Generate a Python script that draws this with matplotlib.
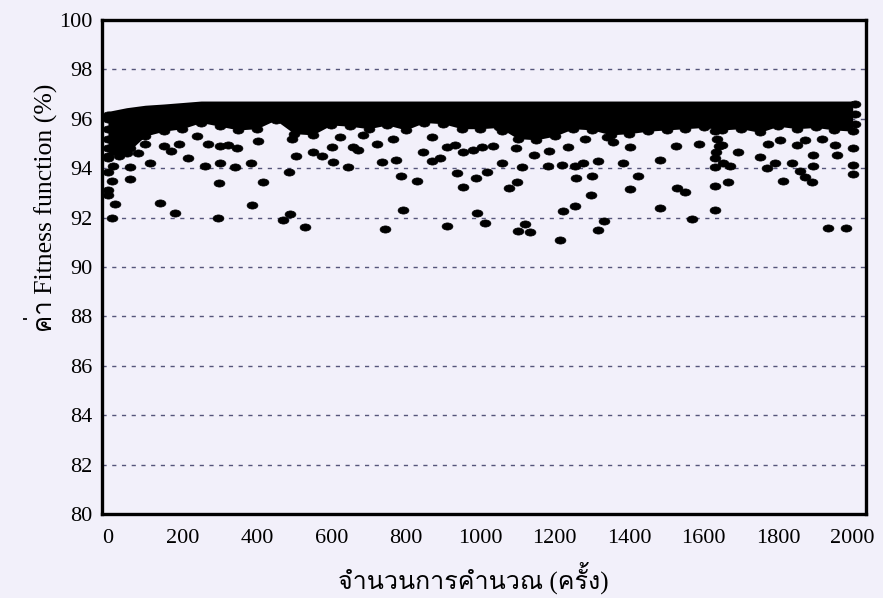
import matplotlib
matplotlib.use("Agg")
import matplotlib.pyplot as plt
from matplotlib import font_manager
from matplotlib.path import Path
from matplotlib.transforms import Affine2D

# หา font ที่มีอักษรไทย (ถ้ามี)
thai_font = None
for f in font_manager.fontManager.ttflist:
    if "thai" in f.name.lower() or f.name in ("Loma", "Garuda", "Norasi", "Sawasdee", "Kinnari"):
        thai_font = f.name
        break
fam = ["Liberation Serif"] + ([thai_font] if thai_font else []) + ["DejaVu Sans"]

# แถบหนาแน่นด้านบน (ขอบบน / ขอบล่าง ของจุดที่ซ้อนกัน)
band_x = [0, 50, 100, 150, 200, 250, 300, 350, 400, 450, 500, 550, 600, 650, 700,
          750, 800, 850, 900, 950, 1000, 1050, 1100, 1150, 1200, 1250, 1300, 1350,
          1400, 1450, 1500, 1550, 1600, 1650, 1700, 1750, 1800, 1850, 1900, 1950, 2000]
band_top = [96.3, 96.45, 96.55, 96.6, 96.66, 96.72, 96.72, 96.72, 96.72, 96.72,
            96.72, 96.72, 96.72, 96.72, 96.72, 96.72, 96.72, 96.72, 96.72, 96.72,
            96.72, 96.72, 96.72, 96.72, 96.72, 96.72, 96.72, 96.72, 96.72, 96.72,
            96.72, 96.72, 96.72, 96.72, 96.72, 96.72, 96.72, 96.72, 96.72, 96.72, 96.72]
band_low = [94.5, 94.6, 95.3, 95.5, 95.6, 95.85, 95.7, 95.55, 95.6, 95.95, 95.4,
            95.35, 95.75, 95.7, 95.6, 95.75, 95.55, 95.85, 95.8, 95.6, 95.6, 95.65,
            95.2, 95.15, 95.3, 95.6, 95.55, 95.35, 95.4, 95.5, 95.55, 95.6, 95.65,
            95.55, 95.6, 95.45, 95.7, 95.6, 95.65, 95.55, 95.5]

# จุดที่กระจายอยู่ด้านล่างแถบ
pts_x = [0, 10, 0, 0, 19, 10, 59, 139, 180, 295, 298, 387, 416, 486, 470, 489, 529, 744,
         0, 0, 0, 0, 0, 0, 2005, 2005, 2005,
         13, 59, 113, 215, 260, 301,
         30, 60, 80, 100, 150, 170, 190, 240, 270, 300,
         322, 346, 341, 384, 505, 550, 574, 604, 644, 623, 601, 494, 403,
         736, 773, 787, 830, 792, 910, 937, 953, 988, 991, 846, 870, 891, 870, 910,
         932, 953, 980, 658, 671, 722, 765, 685,
         1012, 1119, 1101, 1133, 1213, 1221, 1254, 1297, 1315, 1332, 1077, 1098, 1017,
         1058, 1111, 1181, 1219, 1254, 1275, 1315, 1256, 1299, 1004, 1034, 1095, 1144,
         1184, 1235, 1281, 1058,
         1482, 1568, 1630, 1401, 1528, 1549, 1423, 1630, 1664, 1383, 1482, 1630, 1630,
         1651, 1401, 1525, 1587, 1648, 1356, 1340, 1630, 1635, 1640, 1632,
         1933, 1981, 1812, 1890, 1871, 1858, 1836, 1791, 1769, 1750, 1691, 1670, 1893,
         2000, 2000, 2000, 1957, 1893, 1871, 1850, 1772, 1804, 1952, 1917]
pts_y = [93.85, 93.5, 93.1, 92.9, 92.55, 92.0, 93.55, 92.6, 92.2, 92.0, 93.4, 92.5, 93.45,
         93.85, 91.9, 92.15, 91.6, 91.55,
         94.4, 94.8, 95.2, 95.6, 96.0, 96.15, 96.58, 96.2, 95.8,
         94.1, 94.05, 94.2, 94.4, 94.1, 94.2,
         94.5, 94.8, 94.6, 95.0, 94.9, 94.7, 95.0, 95.3, 95.0, 94.9,
         94.94, 94.8, 94.05, 94.2, 94.5, 94.65, 94.5, 94.25, 94.05, 95.25, 94.85, 95.2, 95.1,
         94.25, 94.33, 93.7, 93.5, 92.3, 91.65, 93.8, 93.25, 93.6, 92.2, 94.65, 94.3, 94.4,
         95.25, 94.85, 94.95, 94.65, 94.75, 94.85, 94.75, 95.0, 95.2, 95.35,
         91.8, 91.75, 91.45, 91.4, 91.1, 92.25, 92.45, 92.9, 91.5, 91.85, 93.2, 93.45, 93.85,
         94.2, 94.05, 94.1, 94.15, 94.1, 94.2, 94.3, 93.6, 93.7, 94.85, 94.9, 94.8, 94.55,
         94.7, 94.85, 95.2, 95.5,
         92.4, 91.95, 92.3, 93.15, 93.2, 93.05, 93.7, 93.3, 93.45, 94.2, 94.35, 94.4, 94.05,
         94.2, 94.85, 94.9, 95.0, 94.94, 95.05, 95.25, 95.5, 95.2, 94.9, 94.65,
         91.58, 91.58, 93.5, 93.45, 93.65, 93.9, 94.2, 94.2, 94.0, 94.45, 94.65, 94.1, 94.1,
         94.15, 93.75, 94.8, 94.55, 94.55, 95.15, 94.94, 95.0, 95.15, 94.94, 95.2]

y_ticks = [80, 82, 84, 86, 88, 90, 92, 94, 96, 98, 100]
x_ticks = [0, 200, 400, 600, 800, 1000, 1200, 1400, 1600, 1800, 2000]

bg = "#f2f0fa"
ell = Path.unit_circle().transformed(Affine2D().scale(1.0, 0.66))

fig = plt.figure(figsize=(8.83, 5.98), dpi=100, facecolor=bg)
ax = fig.add_axes([0.1155, 0.1405, 0.865, 0.826])
ax.set_facecolor(bg)

for g in y_ticks[1:-1]:
    ax.axhline(g, color="#55557a", lw=1.0, ls=(0, (3, 4)), zorder=1)

ax.fill_between(band_x, band_low, band_top, color="black", lw=0, zorder=2)
ax.plot(band_x, band_low, ls="none", marker=ell, ms=7.8, mew=0.5, color="black", zorder=3)
ax.plot(pts_x, pts_y, ls="none", marker=ell, ms=7.8, mew=0.5, color="black", zorder=3)

ax.set_xlim(-16, 2035)
ax.set_ylim(80, 100)
ax.set_xticks(x_ticks)
ax.set_yticks(y_ticks)
ax.tick_params(length=0, labelsize=16)
ax.tick_params(axis="x", pad=11)
ax.tick_params(axis="y", pad=7)
for lab in ax.get_xticklabels() + ax.get_yticklabels():
    lab.set_family(fam)

for s in ax.spines.values():
    s.set_linewidth(2.4)
    s.set_color("black")

ax.set_xlabel("จำนวนการคำนวณ (ครั้ง)", family=fam, fontsize=18, va="center")
ax.set_ylabel("ค่า Fitness function (%)", family=fam, fontsize=18.5, va="center")
ax.xaxis.set_label_coords(0.486, -0.13)
ax.yaxis.set_label_coords(-0.081, 0.62)

fig.savefig("out.png", dpi=100, facecolor=bg)
